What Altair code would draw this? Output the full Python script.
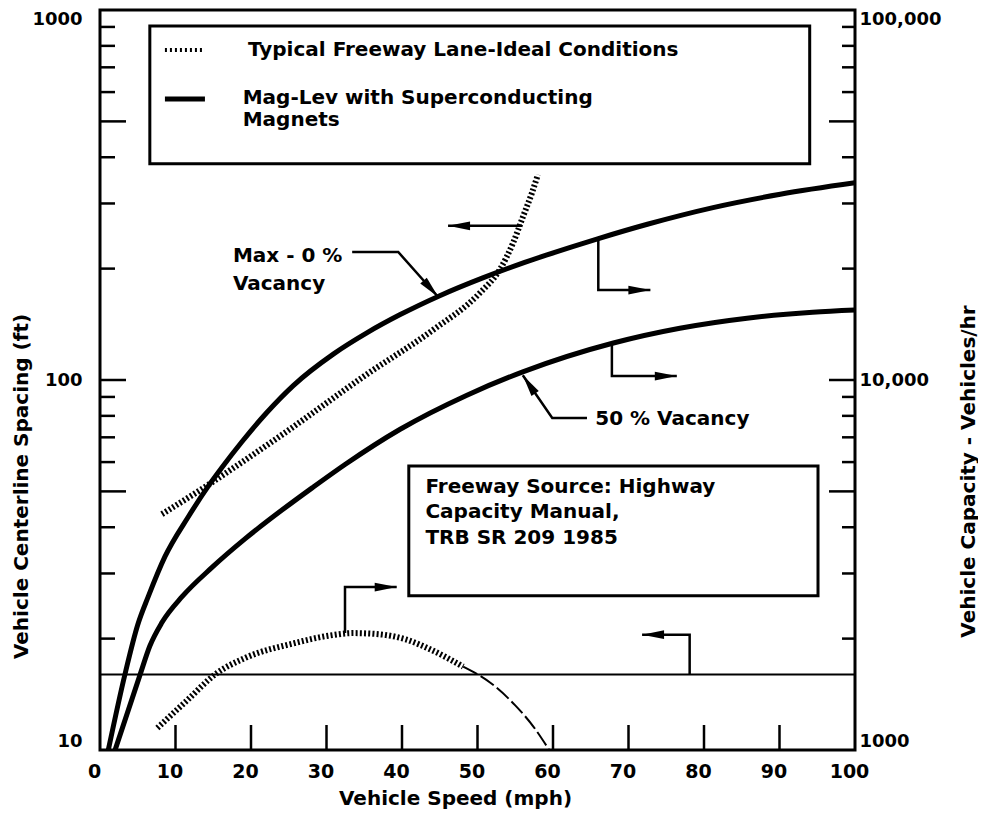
import altair as alt
import pandas as pd

FONT = "DejaVu Sans"

# ---------------- data ----------------
speed_ticks = [0, 10, 20, 30, 40, 50, 60, 70, 80, 90, 100]
inner_x_ticks = [10, 20, 30, 40, 50, 60, 70, 80, 90]

# Mag-Lev, Max - 0 % vacancy : spacing (ft)
maglev0_speed = [1.1, 3.3, 5.0, 6.4, 8.6, 11.7, 14.3, 16.2, 18.8, 22.1, 25.6, 30.9,
                 35.4, 39.7, 45.0, 50.7, 55.6, 59.2, 65.8, 72.5, 81.2, 90.1, 100]
maglev0_spacing = [10, 16.0, 21.8, 26.0, 33.3, 42.7, 51.5, 58.2, 68.1, 81.7, 96.6, 117.5,
                   134.3, 150.0, 169.0, 188.8, 205.6, 217.8, 240.4, 263.6, 292.4, 317.7, 341.2]

# Mag-Lev, 50 % vacancy : spacing (ft)
maglev50_speed = [2.0, 5.3, 6.6, 8.2, 10.9, 14.8, 19.2, 24.1, 28.1, 32.5, 39.7,
                  48.6, 56.0, 68.0, 76.8, 85.7, 94.4, 100]
maglev50_spacing = [10, 15.96, 19.1, 22.1, 26.0, 31.1, 37.2, 44.5, 51.1, 59.2, 73.5,
                    91.0, 105.2, 125.9, 138.0, 146.9, 152.4, 154.5]

# Typical freeway lane : spacing (ft)
fwy_speed = [8.2, 14.6, 17.6, 24.1, 35.4, 44.1, 50.3, 53.0, 54.7, 56.0, 57.2, 58.0]
fwy_spacing = [43.4, 52.5, 57.7, 71.1, 103.8, 136.5, 171.8, 199.5, 234.4, 275.4, 319.9, 358.9]

# Typical freeway lane : capacity (vehicles/hr)
cap_speed = [7.6, 11.3, 15.5, 19.2, 25.8, 30.5, 33.5, 37.0, 40.5, 44.0, 48.1, 51.7, 55.0, 57.5, 59.5]
cap_value = [1147, 1348, 1615, 1773, 1946, 2040, 2070, 2055, 1990, 1860, 1680, 1520, 1320, 1150, 1000]
cap_hatched_until = 48.1

# horizontal reference line (ft)
ref_spacing = 16

# minor / major inward ticks
left_short = [20, 30, 40, 60, 70, 80, 90, 200, 300, 400, 600, 700, 800, 900]
left_long = [50, 100, 500]
right_short = [2000, 3000, 4000, 6000, 7000, 8000, 9000,
               20000, 30000, 40000, 60000, 70000, 80000, 90000]
right_long = [5000, 10000, 50000]

# text annotations (left-axis units)
note_text = ["Typical Freeway Lane-Ideal Conditions", "Mag-Lev with Superconducting",
             "Magnets", "Max - 0 %", "Vacancy", "50 % Vacancy",
             "Freeway Source: Highway", "Capacity Manual,", "TRB SR 209 1985"]
note_x = [19.6, 18.9, 18.9, 17.6, 17.6, 65.6, 43.1, 43.1, 43.1]
note_y = [780, 578, 504, 216, 182, 78.4, 51.4, 44.0, 37.4]

# boxes
box_x1 = [6.6, 40.9]
box_x2 = [94.0, 95.1]
box_y1 = [905, 58.6]
box_y2 = [384, 26.1]

# legend samples
legend_sample_x = [8.6, 13.9]
legend_hatch_y = 780
legend_solid_y = 575

# leader lines (left-axis units): id, x, y in drawing order
lead_id = ["A", "A", "B", "B", "B", "C", "C", "C", "D", "D", "D", "E", "E", "E", "F", "F", "F"]
lead_x = [55.9, 46.1, 33.4, 39.5, 44.8, 66.0, 66.0, 72.9, 67.8, 67.8, 76.4,
          64.5, 59.9, 56.0, 78.1, 78.1, 71.8]
lead_y = [261, 261, 221.8, 221.8, 167.6, 242, 175, 175, 124.3, 102.5, 102.5,
          78.9, 78.9, 103, 16, 20.5, 20.5]
head_x = [46.1, 44.8, 72.9, 76.4, 56.0, 71.8]
head_y = [261, 167.6, 175, 102.5, 103, 20.5]
head_angle = [180, 48, 0, 0, 236, 180]

# leader on capacity curve (right-axis units)
cap_lead_x = [32.45, 32.45, 39.3]
cap_lead_y = [2070, 2757, 2757]
cap_head = (39.3, 2757, 0)

# ---------------- chart ----------------
W, H = 755, 740
ARROW = "M0,0 L-1,-0.2 L-1,0.2 Z"

xscale = alt.Scale(domain=[0, 100], nice=False, zero=False)
yscale = alt.Scale(type="log", domain=[10, 1000], nice=False)
yscale_r = alt.Scale(type="log", domain=[1000, 100000], nice=False)

xaxis = alt.Axis(values=speed_ticks, format="d", ticks=False, tickSize=0, domain=False,
                 grid=False, labelFlush=False, labelPadding=12, labelOffset=-6,
                 labelFontSize=19, title="Vehicle Speed (mph)", titleFontSize=20,
                 titleX=355, titleY=48, titleAlign="center", titleBaseline="middle")
yaxis = alt.Axis(values=[10, 100, 1000], format="d", ticks=False, tickSize=0,
                 domain=False, grid=False, labelFlush=True, labelPadding=18,
                 labelFontSize=18, title="Vehicle Centerline Spacing (ft)",
                 titleFontSize=20, titleAngle=270, titleX=-79, titleY=476,
                 titleAlign="center", titleBaseline="middle")
yaxis_r = alt.Axis(orient="right", values=[1000, 10000, 100000],
                   labelExpr="datum.value >= 10000 ? format(datum.value, ',') : format(datum.value, 'd')",
                   ticks=False, tickSize=0, domain=False, grid=False, labelFlush=True,
                   labelPadding=4, labelFontSize=18,
                   title="Vehicle Capacity - Vehicles/hr", titleFontSize=20,
                   titleAngle=270, titleX=113, titleY=461, titleAlign="center",
                   titleBaseline="middle")

xe = alt.X("x:Q", scale=xscale, axis=xaxis)
ye = alt.Y("y:Q", scale=yscale, axis=yaxis)
ye_r = alt.Y("y:Q", scale=yscale_r, axis=yaxis_r)


def df(**cols):
    return pd.DataFrame(cols)


# axis ticks drawn inward
t_x = alt.Chart(df(x=inner_x_ticks)).mark_rule(color="black", strokeWidth=2.5).encode(
    x=xe, y=alt.value(H - 25), y2=alt.value(H))
t_ls = alt.Chart(df(y=left_short)).mark_rule(color="black", strokeWidth=2.5).encode(
    y=ye, x=alt.value(0), x2=alt.value(15))
t_ll = alt.Chart(df(y=left_long)).mark_rule(color="black", strokeWidth=2.5).encode(
    y=ye, x=alt.value(0), x2=alt.value(26))

hline = alt.Chart(df(y=[ref_spacing])).mark_rule(color="black", strokeWidth=2.2).encode(
    y=ye, x=alt.value(0), x2=alt.value(W))

c0 = alt.Chart(df(x=maglev0_speed, y=maglev0_spacing)).mark_line(
    color="black", strokeWidth=5, interpolate="monotone", clip=True).encode(x=xe, y=ye)
c50 = alt.Chart(df(x=maglev50_speed, y=maglev50_spacing)).mark_line(
    color="black", strokeWidth=5, interpolate="monotone", clip=True).encode(x=xe, y=ye)
cf = alt.Chart(df(x=fwy_speed, y=fwy_spacing)).mark_line(
    color="black", strokeWidth=6, strokeDash=[2, 2.2], interpolate="monotone",
    clip=True).encode(x=xe, y=ye)

boxes = alt.Chart(df(x=box_x1, x2=box_x2, y=box_y1, y2=box_y2)).mark_rect(
    fill="white", stroke="black", strokeWidth=3).encode(
    x=xe, x2=alt.X2("x2:Q"), y=ye, y2=alt.Y2("y2:Q"))

leg_h = alt.Chart(df(x=legend_sample_x, y=[legend_hatch_y] * 2)).mark_line(
    color="black", strokeWidth=4, strokeDash=[2, 3]).encode(x=xe, y=ye)
leg_s = alt.Chart(df(x=legend_sample_x, y=[legend_solid_y] * 2)).mark_line(
    color="black", strokeWidth=5).encode(x=xe, y=ye)

notes = alt.Chart(df(x=note_x, y=note_y, t=note_text)).mark_text(
    align="left", baseline="middle", font=FONT, fontWeight="bold", fontSize=20,
    color="black").encode(x=xe, y=ye, text="t:N")

leads = alt.Chart(df(id=lead_id, o=list(range(len(lead_id))), x=lead_x, y=lead_y)).mark_line(
    color="black", strokeWidth=2.5).encode(
    x=xe, y=ye, detail="id:N", order=alt.Order("o:Q"))
heads = alt.Chart(df(x=head_x, y=head_y, a=head_angle)).mark_point(
    shape=ARROW, filled=True, size=1936, opacity=1, color="black", strokeWidth=0).encode(
    x=xe, y=ye, angle=alt.Angle("a:Q", scale=None))

left = alt.layer(t_x, t_ls, t_ll, hline, boxes, c0, c50, cf, leg_h, leg_s, notes,
                 leads, heads)

# right-axis layer
cap_df = df(x=cap_speed, y=cap_value)
cap_a = cap_df[cap_df.x <= cap_hatched_until]
cap_b = cap_df[cap_df.x >= cap_hatched_until]
cc_a = alt.Chart(cap_a).mark_line(color="black", strokeWidth=6, strokeDash=[2, 2.2],
                                  interpolate="monotone", clip=True).encode(x=xe, y=ye_r)
cc_b = alt.Chart(cap_b).mark_line(color="black", strokeWidth=2, strokeDash=[16, 4],
                                  interpolate="monotone", clip=True).encode(x=xe, y=ye_r)
t_rs = alt.Chart(df(y=right_short)).mark_rule(color="black", strokeWidth=2.5).encode(
    y=ye_r, x=alt.value(W - 13), x2=alt.value(W))
t_rl = alt.Chart(df(y=right_long)).mark_rule(color="black", strokeWidth=2.5).encode(
    y=ye_r, x=alt.value(W - 26), x2=alt.value(W))
cap_lead = alt.Chart(df(o=[0, 1, 2], x=cap_lead_x, y=cap_lead_y)).mark_line(
    color="black", strokeWidth=2.5).encode(x=xe, y=ye_r, order=alt.Order("o:Q"))
cap_arrow = alt.Chart(df(x=[cap_head[0]], y=[cap_head[1]], a=[cap_head[2]])).mark_point(
    shape=ARROW, filled=True, size=1936, opacity=1, color="black", strokeWidth=0).encode(
    x=xe, y=ye_r, angle=alt.Angle("a:Q", scale=None))

right = alt.layer(t_rs, t_rl, cc_a, cc_b, cap_lead, cap_arrow)

chart = alt.layer(left, right).resolve_scale(y="independent").properties(
    width=W, height=H,
    autosize=alt.AutoSizeParams(type="none"),
    padding={"left": 92, "top": 2, "right": 123, "bottom": 60},
    background="white",
).configure_view(stroke="black", strokeWidth=3).configure_axis(
    labelColor="black", titleColor="black", labelFont=FONT, titleFont=FONT,
    labelFontWeight="bold", titleFontWeight="bold")

chart.save("out.html", embed_options={"renderer": "svg", "actions": False})
